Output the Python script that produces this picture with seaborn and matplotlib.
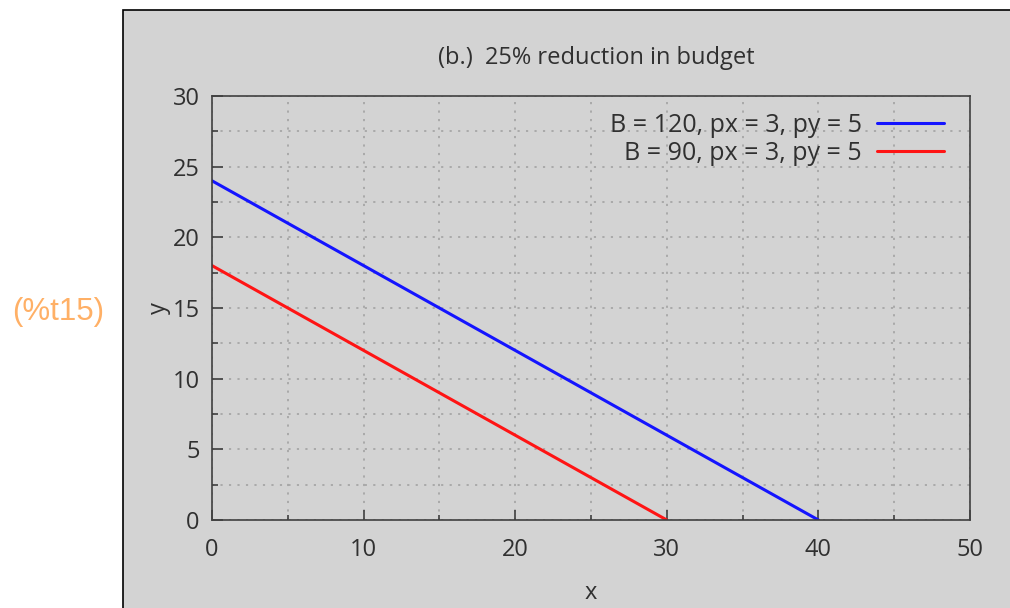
import matplotlib
matplotlib.use("Agg")
import matplotlib.pyplot as plt
import seaborn as sns
import pandas as pd
from matplotlib.patches import Rectangle
from matplotlib.ticker import MultipleLocator

# budget lines: y = (B - px*x) / py
x_full = [0, 40]
y_full = [24, 0]
x_cut = [0, 30]
y_cut = [18, 0]
labels = ["B = 120, px = 3, py = 5", "B = 90, px = 3, py = 5"]
colors = ["#1414ff", "#ff1414"]

FS = 17


def main():
    sns.set_style("ticks")
    plt.rcParams["font.family"] = ["Open Sans", "DejaVu Sans"]

    df = pd.concat([
        pd.DataFrame({"x": x_full, "y": y_full, "series": labels[0]}),
        pd.DataFrame({"x": x_cut, "y": y_cut, "series": labels[1]}),
    ])

    fig = plt.figure(figsize=(10.1, 6.08), dpi=100)
    fig.patch.set_facecolor("white")
    # grey output cell
    fig.patches.append(Rectangle((123 / 1010, -0.05), 1.0, 1 - 10 / 608 + 0.05,
                                 transform=fig.transFigure, facecolor="#d3d3d3",
                                 edgecolor="black", linewidth=1.2, zorder=-5))
    fig.text(58 / 1010, 1 - 312 / 608, "(%t15)", color="#ffb066", fontsize=22.5,
             ha="center", va="center", family=["Liberation Sans", "DejaVu Sans"])

    ax = fig.add_axes([212 / 1010, 88 / 608, 758 / 1010, 424 / 608])
    ax.set_facecolor("#d3d3d3")

    sns.lineplot(data=df, x="x", y="y", hue="series", palette=colors,
                 linewidth=2.2, ax=ax)

    ax.set_xlim(0, 50)
    ax.set_ylim(0, 30)
    ax.xaxis.set_major_locator(MultipleLocator(10))
    ax.xaxis.set_minor_locator(MultipleLocator(5))
    ax.yaxis.set_major_locator(MultipleLocator(5))
    ax.yaxis.set_minor_locator(MultipleLocator(2.5))
    ax.grid(True, which="both", linestyle=(0, (1.2, 3.5)), color="#a6a6a6", linewidth=1.3)

    for side in ["left", "bottom", "right", "top"]:
        ax.spines[side].set_visible(True)
        ax.spines[side].set_color("#404040")
        ax.spines[side].set_linewidth(1.2)

    ax.tick_params(axis="both", which="both", direction="in", colors="#404040",
                   labelcolor="#303030", labelsize=FS, width=1.2)
    ax.tick_params(axis="x", which="major", length=7, pad=13)
    ax.tick_params(axis="x", which="minor", length=3.5)
    ax.tick_params(axis="y", which="major", length=8, pad=9)
    ax.tick_params(axis="y", which="minor", length=4.5)

    ax.set_title("(b.)  25% reduction in budget", fontsize=FS, color="#303030",
                 pad=23, x=0.507)
    ax.set_xlabel("x", fontsize=FS, color="#303030")
    ax.set_ylabel("y", fontsize=FS, color="#303030")
    ax.xaxis.set_label_coords(0.5, -0.145)
    ax.yaxis.set_label_coords(-0.054, 0.5)

    leg = ax.legend(loc="upper right", bbox_to_anchor=(0.9657, 0.96),
                    frameon=False, markerfirst=False, fontsize=18,
                    handlelength=2.7, handletextpad=0.6, labelspacing=0.12,
                    borderaxespad=0, borderpad=0, title=None)
    for t in leg.get_texts():
        t.set_color("#303030")
        t.set_ha("right")
    leg._legend_box.align = "right"

    fig.savefig("out.png", dpi=100)


if __name__ == "__main__":
    main()
